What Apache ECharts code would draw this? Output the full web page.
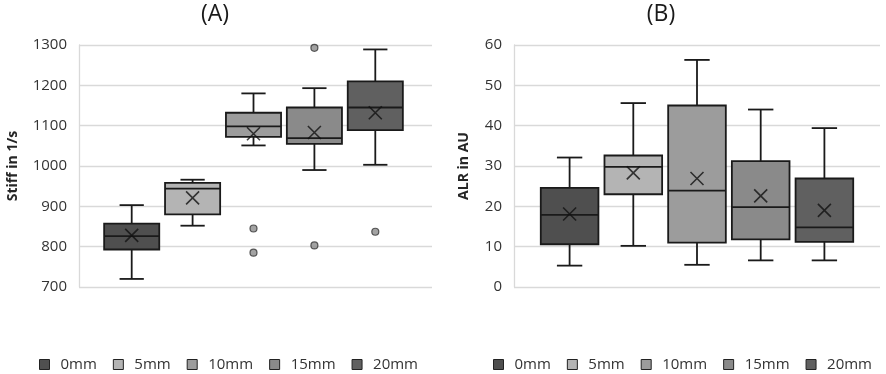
<!DOCTYPE html>
<html><head><meta charset="utf-8">
<script src="https://cdn.jsdelivr.net/npm/echarts@6/dist/echarts.min.js"></script>
<style>html,body{margin:0;padding:0;background:#fff}#c{width:886px;height:374px}</style>
</head><body><div id="c"></div>
<script>
// ---------- data ----------
const seriesNames = ['0mm', '5mm', '10mm', '15mm', '20mm'];
const seriesColors = ['#4f4f4f', '#b4b4b4', '#9c9c9c', '#8a8a8a', '#606060'];

// Panel A: Stiff in 1/s -> [min, Q1, median, Q3, max]
const stiffBox = [
  [720, 793, 826, 857, 903],
  [852, 880, 944, 958, 966],
  [1051, 1072, 1098, 1132, 1180],
  [990, 1055, 1069, 1145, 1193],
  [1003, 1089, 1145, 1210, 1289]
];
const stiffMean = [828, 921, 1080, 1083, 1132];
const stiffOutliers = [[], [], [845, 785], [1293, 803], [837]];
const stiffTicks = [700, 800, 900, 1000, 1100, 1200, 1300];

// Panel B: ALR in AU -> [min, Q1, median, Q3, max]
const alrBox = [
  [5.3, 10.6, 17.9, 24.6, 32.1],
  [10.2, 23.0, 29.8, 32.6, 45.6],
  [5.5, 11.0, 23.9, 45.0, 56.3],
  [6.6, 11.8, 19.8, 31.2, 44.0],
  [6.6, 11.2, 14.8, 26.9, 39.4]
];
const alrMean = [18.1, 28.3, 26.9, 22.6, 19.0];
const alrOutliers = [[], [], [], [], []];
const alrTicks = [0, 10, 20, 30, 40, 50, 60];

// ---------- layout ----------
const FONT = 'Open Sans';
const BOX_FRAC = 0.905;
const CAP_FRAC = 0.44;
const EDGE = '#1a1a1a';

function renderBox(params, api) {
  const x = api.value(0);
  const pMin = api.coord([x, api.value(1)]);
  const pQ1 = api.coord([x, api.value(2)]);
  const pMed = api.coord([x, api.value(3)]);
  const pQ3 = api.coord([x, api.value(4)]);
  const pMax = api.coord([x, api.value(5)]);
  const unit = api.size([1, 0])[0];
  const bw = unit * BOX_FRAC;
  const cw = bw * CAP_FRAC;
  const cx = pMed[0];
  const ls = { stroke: EDGE, lineWidth: 1.8 };
  return {
    type: 'group',
    children: [
      { type: 'line', shape: { x1: cx, y1: pMax[1], x2: cx, y2: pQ3[1] }, style: ls },
      { type: 'line', shape: { x1: cx, y1: pQ1[1], x2: cx, y2: pMin[1] }, style: ls },
      { type: 'line', shape: { x1: cx - cw / 2, y1: pMax[1], x2: cx + cw / 2, y2: pMax[1] }, style: ls },
      { type: 'line', shape: { x1: cx - cw / 2, y1: pMin[1], x2: cx + cw / 2, y2: pMin[1] }, style: ls },
      { type: 'rect', shape: { x: cx - bw / 2, y: pQ3[1], width: bw, height: pQ1[1] - pQ3[1] },
        style: { fill: api.visual('color'), stroke: EDGE, lineWidth: 1.8 } },
      { type: 'line', shape: { x1: cx - bw / 2, y1: pMed[1], x2: cx + bw / 2, y2: pMed[1] }, style: ls }
    ]
  };
}

// x-axis value range so that boxes sit at the measured centres/spacing
function xRange(gridLeft, gridRight, center, spacing) {
  return { min: 2 - (center - gridLeft) / spacing, max: 2 + (gridRight - center) / spacing };
}
const xrA = xRange(79, 432, 253.5, 60.9);
const xrB = xRange(514, 880, 697, 63.7);

function panelSeries(idx, boxes, means, outliers) {
  const out = [];
  boxes.forEach((b, i) => {
    out.push({
      type: 'custom', name: seriesNames[i], xAxisIndex: idx, yAxisIndex: idx,
      renderItem: renderBox,
      itemStyle: { color: seriesColors[i], borderColor: EDGE, borderWidth: 1 },
      encode: { x: 0, y: [1, 2, 3, 4, 5] },
      data: [[i].concat(b)],
      z: 2
    });
  });
  out.push({
    type: 'scatter', name: 'mean' + idx, xAxisIndex: idx, yAxisIndex: idx,
    symbol: 'path://M0,0L10,10M10,0L0,10', symbolSize: 13,
    itemStyle: { color: 'rgba(0,0,0,0)', borderColor: '#111', borderWidth: 1.6 },
    data: means.map((m, i) => [i, m]), z: 5, silent: true
  });
  const od = [];
  outliers.forEach((arr, i) => arr.forEach(v => od.push([i, v])));
  out.push({
    type: 'scatter', name: 'outlier' + idx, xAxisIndex: idx, yAxisIndex: idx,
    symbol: 'circle', symbolSize: 7,
    itemStyle: { color: '#8c8c8c', borderColor: '#333', borderWidth: 1.2 },
    data: od, z: 5, silent: true
  });
  return out;
}

function yAxis(idx, ticks, name, gap) {
  return {
    type: 'value', gridIndex: idx,
    min: ticks[0], max: ticks[ticks.length - 1], interval: ticks[1] - ticks[0],
    name: name, nameLocation: 'middle', nameGap: gap,
    nameTextStyle: { fontFamily: FONT, fontSize: 14, fontWeight: 'bold', color: '#262626' },
    axisLine: { show: true, onZero: false, lineStyle: { color: '#d9d9d9', width: 1.3 } },
    axisTick: { show: false },
    axisLabel: { margin: 12, fontFamily: FONT, fontSize: 15, color: '#333', formatter: v => String(v) },
    splitLine: { show: true, lineStyle: { color: '#d9d9d9', width: 1.3 } }
  };
}

function legend(left) {
  return {
    data: seriesNames, left: left, top: 352, icon: 'rect',
    itemWidth: 10, itemHeight: 10, itemGap: 16,
    itemStyle: { borderColor: '#222', borderWidth: 1 },
    textStyle: { fontFamily: FONT, fontSize: 15, color: '#333', padding: [0, 0, 0, 6] }
  };
}

const chart = echarts.init(document.getElementById('c'), null, { renderer: 'canvas' });
chart.setOption({
  animation: false,
  backgroundColor: '#fff',
  graphic: [
    { type: 'text', x: 215, y: 14, style: { text: '(A)', textAlign: 'center', textVerticalAlign: 'middle', font: '23px "Open Sans"', fill: '#1a1a1a' } },
    { type: 'text', x: 661, y: 14, style: { text: '(B)', textAlign: 'center', textVerticalAlign: 'middle', font: '23px "Open Sans"', fill: '#1a1a1a' } }
  ],
  grid: [
    { left: 79, width: 353, top: 45, height: 242 },
    { left: 514, width: 366, top: 45, height: 242 }
  ],
  xAxis: [
    { type: 'value', gridIndex: 0, min: xrA.min, max: xrA.max, show: false, splitLine: { show: false } },
    { type: 'value', gridIndex: 1, min: xrB.min, max: xrB.max, show: false, splitLine: { show: false } }
  ],
  yAxis: [
    yAxis(0, stiffTicks, 'Stiff in 1/s', 59),
    yAxis(1, alrTicks, 'ALR in AU', 43)
  ],
  legend: [legend(34), legend(488)],
  series: panelSeries(0, stiffBox, stiffMean, stiffOutliers)
    .concat(panelSeries(1, alrBox, alrMean, alrOutliers))
});
</script>
</body></html>
